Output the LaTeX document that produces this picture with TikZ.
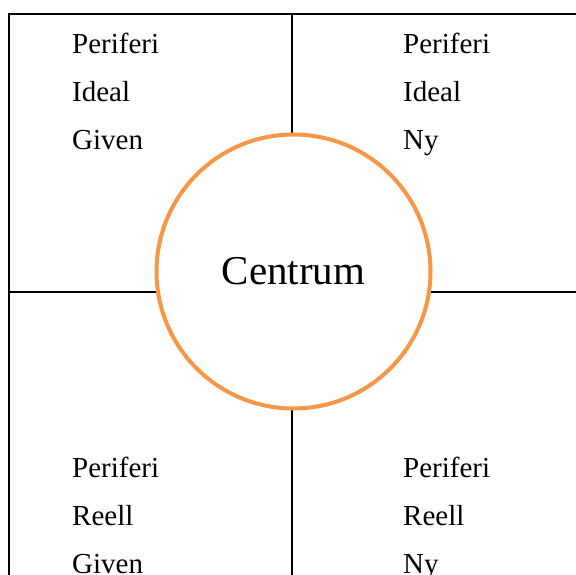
\documentclass[tikz,border=0pt]{standalone}
\usepackage{fontspec}
\setmainfont{Liberation Serif}
\definecolor{circorange}{RGB}{247,150,70}
\begin{document}
\begin{tikzpicture}[x=1pt,y=-1pt,
  lbl/.style={anchor=base west,inner sep=0pt,font=\fontsize{29}{29}\selectfont},
  gridline/.style={line width=1.8pt,black}]
\useasboundingbox (0,0) rectangle (576,574);
\draw[gridline] (9,580) -- (9,14) -- (580,14);
\draw[gridline] (292,14) -- (292,580);
\draw[gridline] (9,292) -- (580,292);
\node[circle,draw=circorange,line width=4pt,fill=white,minimum size=274pt,inner sep=0pt,
  font=\fontsize{41}{41}\selectfont] (c) at (293.5,271.5) {Centrum};
\node[lbl] (a1) at (72,53) {Periferi};
\node[lbl] (a2) at (72,101) {Ideal};
\node[lbl] (a3) at (72,149) {Given};
\node[lbl] (b1) at (403,53) {Periferi};
\node[lbl] (b2) at (403,101) {Ideal};
\node[lbl] (b3) at (403,149) {Ny};
\node[lbl] (d1) at (72,477) {Periferi};
\node[lbl] (d2) at (72,525) {Reell};
\node[lbl] (d3) at (72,573) {Given};
\node[lbl] (e1) at (403,477) {Periferi};
\node[lbl] (e2) at (403,525) {Reell};
\node[lbl] (e3) at (403,573) {Ny};
\end{tikzpicture}
\end{document}
